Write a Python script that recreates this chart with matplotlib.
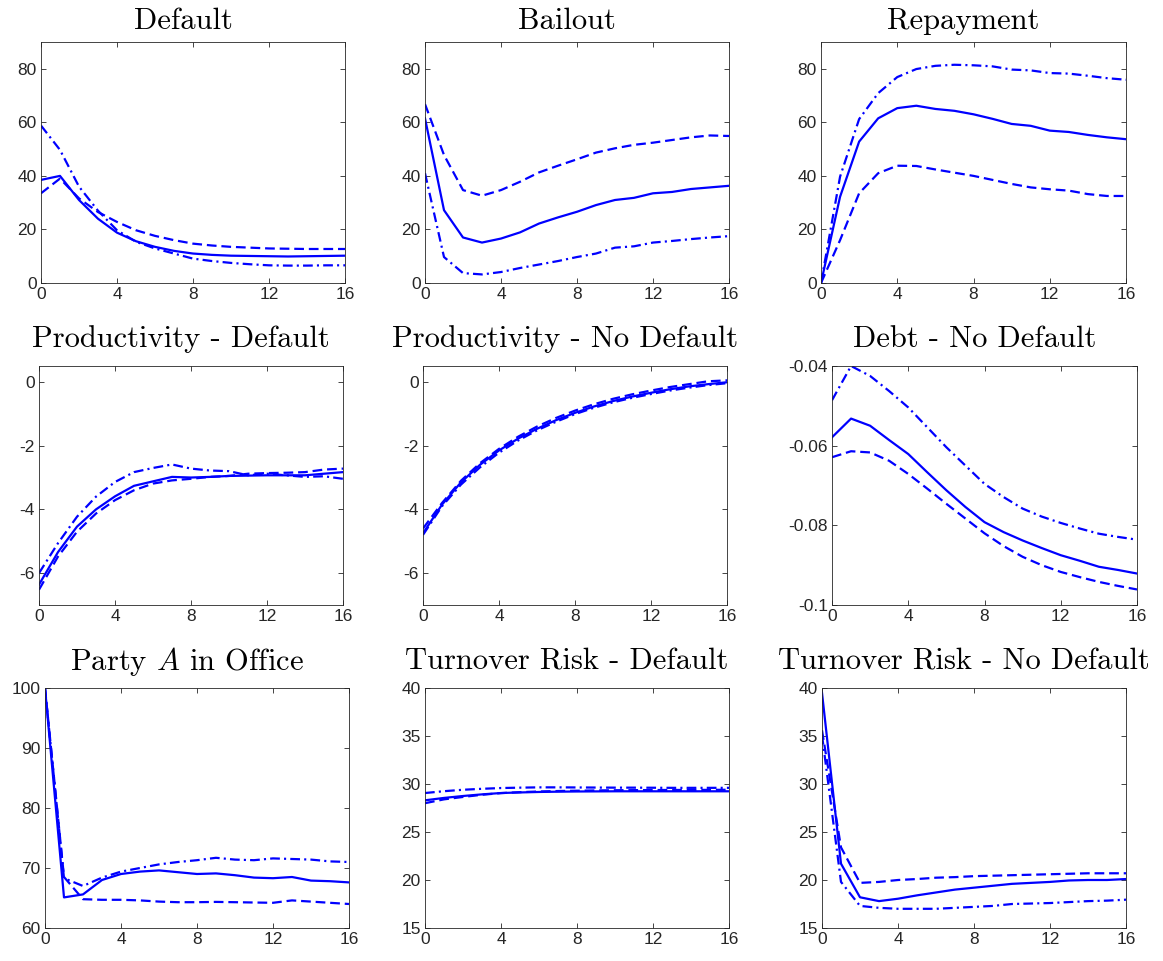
import matplotlib
matplotlib.use("Agg")
import matplotlib.pyplot as plt
from matplotlib.ticker import FixedLocator, FixedFormatter

plt.rcParams['mathtext.fontset'] = 'cm'
plt.rcParams['axes.unicode_minus'] = False
plt.rcParams['lines.scale_dashes'] = False

x = list(range(17))

# ---- data (solid, dashed, dash-dot) ----
default_solid = [38.5, 40, 31, 24, 18.8, 15.6, 13.5, 12, 11, 10.5, 10.2, 10.1, 10, 9.9, 10, 10.1, 10.2]
default_dash = [33.5, 39, 31.6, 26.5, 22.8, 19.7, 17.6, 16, 14.7, 14, 13.5, 13.2, 12.9, 12.8, 12.7, 12.7, 12.7]
default_dashdot = [58.8, 49.7, 36, 27, 19.7, 15.4, 12.9, 11, 9.1, 8.2, 7.5, 7.0, 6.6, 6.5, 6.5, 6.6, 6.6]

bailout_solid = [61.5, 27.2, 17, 15.1, 16.6, 18.9, 22.2, 24.5, 26.6, 29.1, 31, 31.8, 33.5, 34, 35.1, 35.7, 36.3]
bailout_dash = [66.8, 47.8, 34.7, 32.6, 34.7, 37.8, 41.3, 43.8, 46.2, 48.7, 50.3, 51.6, 52.4, 53.4, 54.4, 55.1, 54.9]
bailout_dashdot = [41, 9.7, 3.7, 3.2, 4.1, 5.6, 6.9, 8.2, 9.7, 11, 13.2, 13.7, 15.1, 15.7, 16.4, 17, 17.5]

repay_solid = [0, 32.2, 52.8, 61.5, 65.3, 66.2, 65, 64.3, 63, 61.3, 59.4, 58.7, 56.9, 56.4, 55.3, 54.4, 53.7]
repay_dash = [0, 16, 33.5, 41, 43.8, 43.7, 42.4, 41.2, 40, 38.5, 37, 35.7, 35, 34.5, 33.2, 32.5, 32.5]
repay_dashdot = [0, 39.7, 61.2, 70.9, 76.9, 79.9, 81.1, 81.5, 81.3, 80.9, 79.7, 79.4, 78.4, 78.2, 77.4, 76.5, 75.9]

proddef_solid = [-6.36, -5.34, -4.54, -4.0, -3.59, -3.26, -3.12, -2.98, -3.0, -2.98, -2.95, -2.94, -2.93, -2.93, -2.93, -2.88, -2.83]
proddef_dash = [-6.52, -5.48, -4.7, -4.13, -3.71, -3.4, -3.19, -3.09, -3.04, -2.98, -2.95, -2.88, -2.86, -2.85, -2.83, -2.75, -2.72]
proddef_dashdot = [-6.0, -5.06, -4.23, -3.6, -3.14, -2.83, -2.7, -2.59, -2.72, -2.78, -2.8, -2.93, -2.88, -2.93, -2.98, -2.96, -3.04]

prodnd_solid = [-4.75, -3.85, -3.15, -2.6, -2.15, -1.78, -1.47, -1.2, -0.97, -0.77, -0.6, -0.46, -0.34, -0.23, -0.14, -0.07, -0.01]
prodnd_dash = [-4.6, -3.8, -3.1, -2.55, -2.1, -1.72, -1.4, -1.13, -0.9, -0.7, -0.53, -0.39, -0.27, -0.16, -0.07, 0.02, 0.05]
prodnd_dashdot = [-4.8, -3.9, -3.22, -2.68, -2.22, -1.84, -1.52, -1.25, -1.01, -0.81, -0.64, -0.5, -0.38, -0.27, -0.18, -0.1, -0.04]

debt_solid = [-0.0579, -0.0532, -0.055, -0.0586, -0.0621, -0.0667, -0.0712, -0.0754, -0.0792, -0.0817, -0.0838, -0.0857, -0.0875, -0.0889, -0.0904, -0.0912, -0.0921]
debt_dash = [-0.0629, -0.0614, -0.0617, -0.0638, -0.0671, -0.0708, -0.0746, -0.0783, -0.0820, -0.0852, -0.0879, -0.0900, -0.0917, -0.0930, -0.0942, -0.0952, -0.0961]
debt_dashdot = [-0.0486, -0.0400, -0.0425, -0.0463, -0.0504, -0.0554, -0.0604, -0.0650, -0.0696, -0.0729, -0.0758, -0.0778, -0.0794, -0.0808, -0.0821, -0.0829, -0.0836]

party_solid = [100, 65.1, 65.6, 68, 69, 69.4, 69.6, 69.3, 69, 69.1, 68.8, 68.4, 68.3, 68.5, 67.9, 67.8, 67.6]
party_dash = [100, 68.5, 64.8, 64.7, 64.7, 64.6, 64.4, 64.3, 64.3, 64.35, 64.3, 64.25, 64.2, 64.6, 64.4, 64.2, 64.0]
party_dashdot = [100, 68.3, 67, 68.4, 69.4, 70, 70.6, 71, 71.3, 71.7, 71.4, 71.3, 71.6, 71.5, 71.4, 71.1, 71]

tdef_solid = [28.3, 28.55, 28.75, 28.92, 29.06, 29.12, 29.17, 29.2, 29.22, 29.23, 29.24, 29.24, 29.24, 29.24, 29.24, 29.24, 29.24]
tdef_dash = [28.0, 28.4, 28.65, 28.88, 29.05, 29.15, 29.22, 29.27, 29.3, 29.33, 29.35, 29.36, 29.37, 29.38, 29.38, 29.39, 29.4]
tdef_dashdot = [29.06, 29.25, 29.4, 29.5, 29.58, 29.62, 29.65, 29.65, 29.64, 29.63, 29.62, 29.62, 29.61, 29.6, 29.6, 29.6, 29.6]

tnd_solid = [39.5, 21.7, 18.2, 17.8, 18.05, 18.4, 18.7, 19.0, 19.2, 19.4, 19.6, 19.7, 19.8, 19.95, 20.0, 20.0, 20.1]
tnd_dash = [35.6, 23.4, 19.7, 19.8, 20.0, 20.1, 20.24, 20.3, 20.4, 20.45, 20.5, 20.55, 20.6, 20.65, 20.7, 20.7, 20.7]
tnd_dashdot = [35.1, 19.8, 17.3, 17.1, 17.0, 17.0, 17.0, 17.1, 17.2, 17.3, 17.5, 17.55, 17.6, 17.7, 17.8, 17.85, 17.95]

titles = ["Default", "Bailout", "Repayment",
          "Productivity - Default", "Productivity - No Default", "Debt - No Default",
          r"Party $A$ in Office", "Turnover Risk - Default", "Turnover Risk - No Default"]

series = [
    (default_solid, default_dash, default_dashdot),
    (bailout_solid, bailout_dash, bailout_dashdot),
    (repay_solid, repay_dash, repay_dashdot),
    (proddef_solid, proddef_dash, proddef_dashdot),
    (prodnd_solid, prodnd_dash, prodnd_dashdot),
    (debt_solid, debt_dash, debt_dashdot),
    (party_solid, party_dash, party_dashdot),
    (tdef_solid, tdef_dash, tdef_dashdot),
    (tnd_solid, tnd_dash, tnd_dashdot),
]

ylims = [(0, 90), (0, 90), (0, 90),
         (-7, 0.5), (-7, 0.5), (-0.1, -0.04),
         (60, 100), (15, 40), (15, 40)]
yticks = [[0, 20, 40, 60, 80]] * 3 + [[-6, -4, -2, 0]] * 2 + [[-0.1, -0.08, -0.06, -0.04]] + \
         [[60, 70, 80, 90, 100]] + [[15, 20, 25, 30, 35, 40]] * 2
yticklabels = [["0", "20", "40", "60", "80"]] * 3 + [["-6", "-4", "-2", "0"]] * 2 + \
              [["-0.1", "-0.08", "-0.06", "-0.04"]] + [["60", "70", "80", "90", "100"]] + \
              [["15", "20", "25", "30", "35", "40"]] * 2
xticks = [0, 4, 8, 12, 16]
xticklabels = ["0", "4", "8", "12", "16"]

# axes boxes in pixels: left, top, right, bottom
boxes = [(41, 42, 345, 283), (425, 42, 729, 283), (821, 42, 1126, 283),
         (39, 366, 343, 605), (423, 366, 727, 605), (832, 366, 1137, 605),
         (45, 688, 349, 928), (425, 688, 729, 928), (822, 688, 1126, 928)]
title_pads = [9, 9, 9, 13.5, 13.5, 13.5, 13, 13, 13]

W, H = 1163, 961
fig = plt.figure(figsize=(W / 100, H / 100), dpi=100)
blue = (0, 0, 1)
axc = '#262626'
for i in range(9):
    l, t, r, b = boxes[i]
    ax = fig.add_axes([l / W, 1 - b / H, (r - l) / W, (b - t) / H])
    s, d, dd = series[i]
    ax.plot(x, s, color=blue, lw=1.6, linestyle='-')
    ax.plot(x, d, color=blue, lw=1.6, linestyle=(0, (7, 3.5)))
    ax.plot(x, dd, color=blue, lw=1.6, linestyle=(0, (7, 3, 1.5, 3)))
    ax.set_xlim(0, 16)
    ax.set_ylim(*ylims[i])
    ax.xaxis.set_major_locator(FixedLocator(xticks))
    ax.xaxis.set_major_formatter(FixedFormatter(xticklabels))
    ax.yaxis.set_major_locator(FixedLocator(yticks[i]))
    ax.yaxis.set_major_formatter(FixedFormatter(yticklabels[i]))
    ax.tick_params(direction='in', length=3.5, width=0.6, colors=axc,
                   top=True, right=True, labelsize=12.5, pad=3)
    for lab in ax.get_xticklabels() + ax.get_yticklabels():
        lab.set_fontfamily('Liberation Sans')
    for sp in ax.spines.values():
        sp.set_color(axc)
        sp.set_linewidth(0.6)
    ax.set_title(titles[i], fontfamily='cmr10', fontsize=22, pad=title_pads[i], color='black',
                 x=0.5 - 10 / (r - l))

fig.savefig("out.png", dpi=100)
